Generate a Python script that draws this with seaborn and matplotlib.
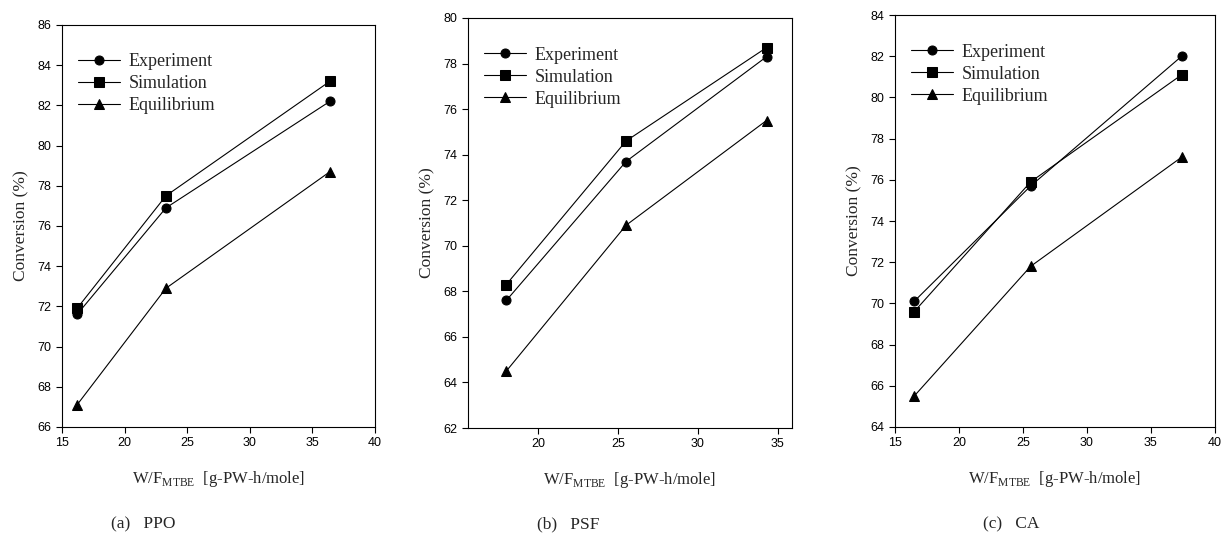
import pandas as pd
import matplotlib.pyplot as plt
import seaborn as sns

# --- data ---
SERIES = ['Experiment', 'Simulation', 'Equilibrium']

PPO_X = [16.2, 23.3, 36.4]
PPO_EXP = [71.6, 76.9, 82.2]
PPO_SIM = [71.9, 77.5, 83.2]
PPO_EQ = [67.1, 72.9, 78.7]

PSF_X = [18.0, 25.5, 34.3]
PSF_EXP = [67.6, 73.7, 78.3]
PSF_SIM = [68.3, 74.6, 78.7]
PSF_EQ = [64.5, 70.9, 75.5]

CA_X = [16.5, 25.6, 37.4]
CA_EXP = [70.1, 75.7, 82.0]
CA_SIM = [69.6, 75.9, 81.1]
CA_EQ = [65.5, 71.8, 77.1]

CAPTIONS = ['(a)   PPO', '(b)   PSF', '(c)   CA']
XLIMS = [(15, 40), (15.6, 35.9), (15, 40)]
XTICKS = [[15, 20, 25, 30, 35, 40], [20, 25, 30, 35], [15, 20, 25, 30, 35, 40]]
YLIMS = [(66, 86), (62, 80), (64, 84)]
YTICK_STEP = 2

sns.set_style('ticks')
plt.rcParams['font.family'] = ['Liberation Sans', 'DejaVu Sans']
plt.rcParams['mathtext.fontset'] = 'custom'
plt.rcParams['mathtext.rm'] = 'Liberation Serif'
SERIF = ['Liberation Serif', 'DejaVu Serif']


def make_frame(x, exp, sim, eq):
    rows = []
    for name, ys in zip(SERIES, [exp, sim, eq]):
        for xi, yi in zip(x, ys):
            rows.append({'x': xi, 'y': yi, 'series': name})
    return pd.DataFrame(rows)


frames = [
    make_frame(PPO_X, PPO_EXP, PPO_SIM, PPO_EQ),
    make_frame(PSF_X, PSF_EXP, PSF_SIM, PSF_EQ),
    make_frame(CA_X, CA_EXP, CA_SIM, CA_EQ),
]

fig = plt.figure(figsize=(12.21, 5.42), dpi=100)
positions = [
    [0.0508, 0.2122, 0.2563, 0.7417],
    [0.3833, 0.2103, 0.2654, 0.7565],
    [0.7330, 0.2122, 0.2620, 0.7600],
]
caption_x = [0.117, 0.465, 0.828]
markers = {'Experiment': 'o', 'Simulation': 's', 'Equilibrium': '^'}

for i, df in enumerate(frames):
    ax = fig.add_axes(positions[i])
    sns.lineplot(data=df, x='x', y='y', style='series', style_order=SERIES,
                 markers=markers, dashes=False, color='black', linewidth=0.8,
                 markersize=6.5, markeredgecolor='black', ax=ax)
    ax.set_xlim(*XLIMS[i])
    ax.set_xticks(XTICKS[i])
    lo, hi = YLIMS[i]
    ax.set_ylim(lo, hi)
    ax.set_yticks(list(range(lo, hi + 1, YTICK_STEP)))
    ax.tick_params(direction='out', length=4, width=0.8, labelsize=9, colors='black')
    for s in ax.spines.values():
        s.set_visible(True)
        s.set_linewidth(0.8)
        s.set_color('black')
    ax.set_ylabel('Conversion (%)', fontsize=12.5, family=SERIF, labelpad=6)
    ax.set_xlabel(r'W/F$_{\mathrm{MTBE}}$  [g-PW-h/mole]', fontsize=12,
                  family=SERIF, labelpad=14)
    ax.legend(loc='upper left', bbox_to_anchor=(0.0, 0.97), frameon=False,
              prop={'family': SERIF, 'size': 13}, handlelength=2.3,
              labelspacing=0.28, handletextpad=0.5)
    fig.text(caption_x[i], 0.025, CAPTIONS[i], fontsize=12.5, family=SERIF, ha='center')

plt.savefig('out.png', dpi=100)
plt.close()
